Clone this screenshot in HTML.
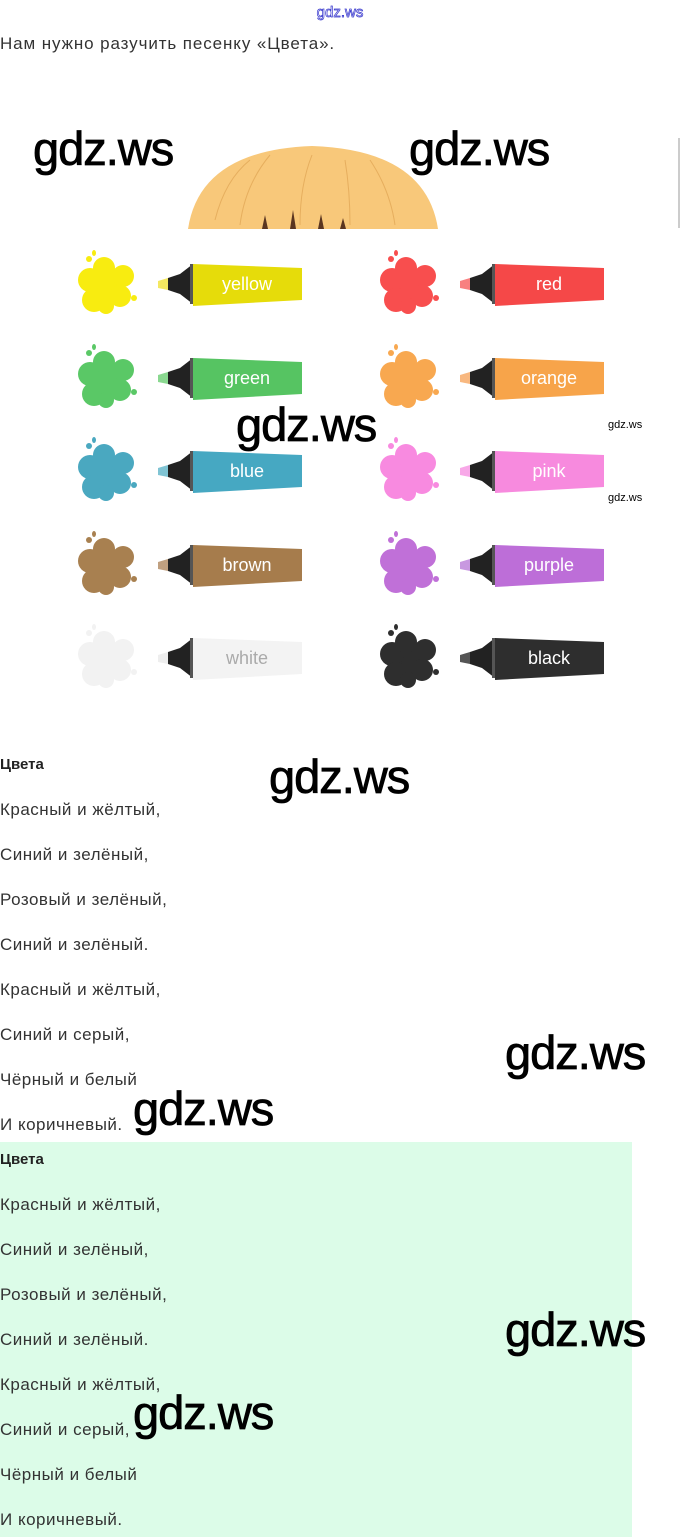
<!DOCTYPE html>
<html><head><meta charset="utf-8"><style>
body{margin:0;width:680px;height:1537px;position:relative;background:#fff;overflow:hidden;font-family:"Liberation Sans",sans-serif;}
.t{position:absolute;left:0;font-size:17px;letter-spacing:0.5px;color:#333;line-height:20px;white-space:nowrap;}
.b{font-weight:bold;font-size:15px;letter-spacing:0;color:#222;}
.w{position:absolute;font-size:47px;color:#000;line-height:50px;white-space:nowrap;letter-spacing:-1px;-webkit-text-stroke:0.8px #000;}
.ws{position:absolute;font-size:11px;color:#000;}
svg{position:absolute;left:0;top:0;}
</style></head><body>
<div style="position:absolute;left:0;top:1142px;width:632px;height:395px;background:#dcfce8"></div>
<div style="position:absolute;left:678px;top:138px;width:2px;height:90px;background:#ccc"></div>
<svg width="680" height="760" viewBox="0 0 680 760">
<defs>
<g id="spl">
<circle cx="0" cy="0" r="18"/>
<circle cx="-16" cy="-6" r="12"/>
<circle cx="-2" cy="-18" r="11"/>
<circle cx="17" cy="-10" r="11"/>
<circle cx="14" cy="10" r="11"/>
<circle cx="-12" cy="14" r="12"/>
<circle cx="0" cy="20" r="8"/>
<circle cx="-17" cy="-27" r="3"/>
<ellipse cx="-12" cy="-33" rx="2" ry="3"/>
<circle cx="28" cy="12" r="3"/>
</g>
<g id="cap"><polygon points="168,-6 180,-10 193,-20 193,20 180,10 168,6" fill="#222"/><rect x="190" y="-20" width="4" height="40" fill="#555"/></g>
</defs>
<text x="340" y="17" font-size="15" fill="#fff" stroke="#3333cc" stroke-width="0.7" text-anchor="middle" font-family="Liberation Sans">gdz.ws</text>
<path d="M188,229 Q200,150 312,146 Q426,150 438,229 Z" fill="#f8c87a"/>
<g stroke="#e6ae5e" stroke-width="1" fill="none"><path d="M215,220 Q225,180 250,160"/><path d="M240,225 Q245,185 270,155"/><path d="M300,225 Q300,185 312,155"/><path d="M350,225 Q350,190 345,160"/><path d="M395,225 Q390,190 370,160"/></g>
<g fill="#5a3520"><polygon points="262,229 265,215 268,229"/><polygon points="290,229 293,210 296,229"/><polygon points="318,229 321,214 324,229"/><polygon points="340,229 343,218 346,229"/></g>
<g transform="translate(0,284)">
<use href="#spl" x="106" y="2" fill="#f8ec10"/>
<polygon points="158,-3 168,-6 168,6 158,4" fill="#f4e860"/><use href="#cap"/>
<polygon points="193,-20 302,-16 302,16 193,22" fill="#e6dc0a"/>
<text x="247" y="6" font-size="18" fill="#fff" text-anchor="middle">yellow</text>
<use href="#spl" x="408" y="2" fill="#f84e4e"/>
<g transform="translate(302,0)"><polygon points="158,-3 168,-6 168,6 158,4" fill="#f88080"/><use href="#cap"/>
<polygon points="193,-20 302,-16 302,16 193,22" fill="#f54848"/>
<text x="247" y="6" font-size="18" fill="#fff" text-anchor="middle">red</text></g>
</g>
<g transform="translate(0,378)">
<use href="#spl" x="106" y="2" fill="#5ac866"/>
<polygon points="158,-3 168,-6 168,6 158,4" fill="#8ad890"/><use href="#cap"/>
<polygon points="193,-20 302,-16 302,16 193,22" fill="#56c462"/>
<text x="247" y="6" font-size="18" fill="#fff" text-anchor="middle">green</text>
<use href="#spl" x="408" y="2" fill="#f8a850"/>
<g transform="translate(302,0)"><polygon points="158,-3 168,-6 168,6 158,4" fill="#f8b880"/><use href="#cap"/>
<polygon points="193,-20 302,-16 302,16 193,22" fill="#f7a44a"/>
<text x="247" y="6" font-size="18" fill="#fff" text-anchor="middle">orange</text></g>
</g>
<g transform="translate(0,471)">
<use href="#spl" x="106" y="2" fill="#4aa8c0"/>
<polygon points="158,-3 168,-6 168,6 158,4" fill="#80c4d4"/><use href="#cap"/>
<polygon points="193,-20 302,-16 302,16 193,22" fill="#46a8c2"/>
<text x="247" y="6" font-size="18" fill="#fff" text-anchor="middle">blue</text>
<use href="#spl" x="408" y="2" fill="#f88ae0"/>
<g transform="translate(302,0)"><polygon points="158,-3 168,-6 168,6 158,4" fill="#f8a8e8"/><use href="#cap"/>
<polygon points="193,-20 302,-16 302,16 193,22" fill="#f78ade"/>
<text x="247" y="6" font-size="18" fill="#fff" text-anchor="middle">pink</text></g>
</g>
<g transform="translate(0,565)">
<use href="#spl" x="106" y="2" fill="#a88050"/>
<polygon points="158,-3 168,-6 168,6 158,4" fill="#c0a080"/><use href="#cap"/>
<polygon points="193,-20 302,-16 302,16 193,22" fill="#a67c4c"/>
<text x="247" y="6" font-size="18" fill="#fff" text-anchor="middle">brown</text>
<use href="#spl" x="408" y="2" fill="#c070d8"/>
<g transform="translate(302,0)"><polygon points="158,-3 168,-6 168,6 158,4" fill="#c898e0"/><use href="#cap"/>
<polygon points="193,-20 302,-16 302,16 193,22" fill="#bd6ed8"/>
<text x="247" y="6" font-size="18" fill="#fff" text-anchor="middle">purple</text></g>
</g>
<g transform="translate(0,658)">
<use href="#spl" x="106" y="2" fill="#f2f2f2"/>
<polygon points="158,-3 168,-6 168,6 158,4" fill="#eee"/><use href="#cap"/>
<polygon points="193,-20 302,-16 302,16 193,22" fill="#f3f3f3"/>
<text x="247" y="6" font-size="18" fill="#aaa" text-anchor="middle">white</text>
<use href="#spl" x="408" y="2" fill="#2e2e2e"/>
<g transform="translate(302,0)"><polygon points="158,-3 168,-6 168,6 158,4" fill="#555"/><use href="#cap"/>
<polygon points="193,-20 302,-16 302,16 193,22" fill="#2e2e2e"/>
<text x="247" y="6" font-size="18" fill="#fff" text-anchor="middle">black</text></g>
</g>
</svg>
<div class="t" style="top:34px;letter-spacing:0.9px">Нам нужно разучить песенку «Цвета».</div>
<div class="t b" style="top:755px">Цвета</div>
<div class="t" style="top:800px">Красный и жёлтый,</div>
<div class="t" style="top:845px">Синий и зелёный,</div>
<div class="t" style="top:890px">Розовый и зелёный,</div>
<div class="t" style="top:935px">Синий и зелёный.</div>
<div class="t" style="top:980px">Красный и жёлтый,</div>
<div class="t" style="top:1025px">Синий и серый,</div>
<div class="t" style="top:1070px">Чёрный и белый</div>
<div class="t" style="top:1115px">И коричневый.</div>
<div class="t b" style="top:1150px">Цвета</div>
<div class="t" style="top:1195px">Красный и жёлтый,</div>
<div class="t" style="top:1240px">Синий и зелёный,</div>
<div class="t" style="top:1285px">Розовый и зелёный,</div>
<div class="t" style="top:1330px">Синий и зелёный.</div>
<div class="t" style="top:1375px">Красный и жёлтый,</div>
<div class="t" style="top:1420px">Синий и серый,</div>
<div class="t" style="top:1465px">Чёрный и белый</div>
<div class="t" style="top:1510px">И коричневый.</div>
<div class="w" style="left:33px;top:124px">gdz.ws</div>
<div class="w" style="left:409px;top:124px">gdz.ws</div>
<div class="w" style="left:236px;top:400px">gdz.ws</div>
<div class="w" style="left:269px;top:752px">gdz.ws</div>
<div class="w" style="left:505px;top:1028px">gdz.ws</div>
<div class="w" style="left:133px;top:1084px">gdz.ws</div>
<div class="w" style="left:505px;top:1305px">gdz.ws</div>
<div class="w" style="left:133px;top:1388px">gdz.ws</div>
<div class="ws" style="left:608px;top:419px">gdz.ws</div>
<div class="ws" style="left:608px;top:492px">gdz.ws</div>
</body></html>
